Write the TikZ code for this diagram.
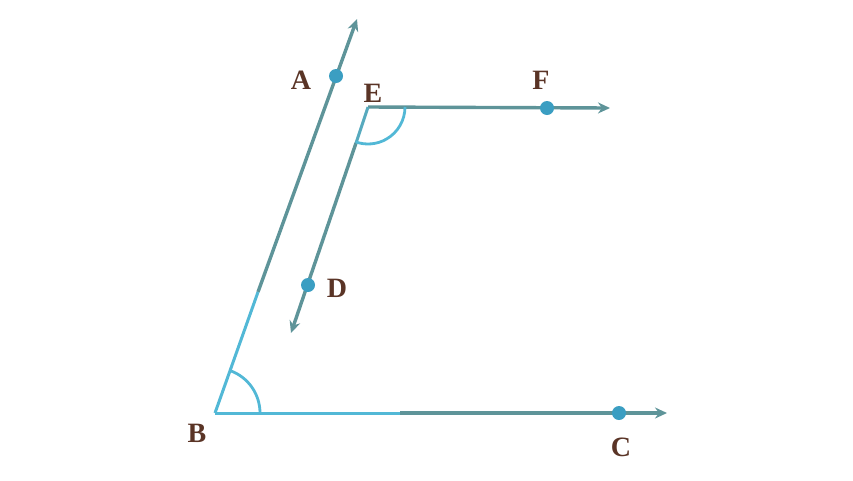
\documentclass[tikz,border=0pt]{standalone}
\usepackage{fontspec}
\setmainfont{Liberation Serif}
\usetikzlibrary{arrows.meta}
\definecolor{cyanl}{HTML}{52B8D6}
\definecolor{teall}{HTML}{5E9499}
\definecolor{dotc}{HTML}{3B9EC2}
\definecolor{labc}{HTML}{5A3426}
\tikzset{
  ray/.style={draw=teall, line width=3.4pt, -{Stealth[length=12pt,width=11pt]}},
  cseg/.style={draw=cyanl, line width=3pt},
  arcst/.style={draw=cyanl, line width=2.8pt},
  pt/.style={circle, fill=dotc, inner sep=0pt, minimum size=14pt},
  lab/.style={text=labc, font=\bfseries\fontsize{28}{28}\selectfont, inner sep=0pt}
}
\begin{document}
\begin{tikzpicture}[x=1pt,y=-1pt]
\useasboundingbox (0,0) rectangle (853,480);
% points
\coordinate (B) at (215,413);
\coordinate (Atip) at (357,19);
\coordinate (Bmid) at (258,292);
\coordinate (E) at (368,107);
\coordinate (Ftip) at (610,108);
\coordinate (Dtip) at (291,333);
\coordinate (Emid) at (356,143);
\coordinate (Cmid) at (400,413);
\coordinate (Ctip) at (667,413);
% rays
\draw[ray] (Bmid) -- (Atip);
\draw[ray] (Cmid) -- (Ctip);
\draw[cseg] (B) -- (Bmid);
\draw[cseg] (B) -- (Cmid);
\draw[ray] (E) -- (Ftip);
\draw[ray] (Emid) -- (Dtip);
\draw[cseg, draw=cyanl!60!teall] (E) -- (Emid);
% angles
\draw[arcst] (B) ++(45,0) arc[start angle=0, end angle=-70.2, radius=45];
\draw[arcst] (E) ++(37,0) arc[start angle=0, end angle=108.9, radius=37];
% dots
\node[pt] (A) at (336,76) {};
\node[pt] (F) at (547,108) {};
\node[pt] (D) at (308,285) {};
\node[pt] (C) at (619,413) {};
% labels
\node[lab] (lA) at (301,80) {A};
\node[lab] (lE) at (373,93) {E};
\node[lab] (lF) at (541,80) {F};
\node[lab] (lD) at (337,288) {D};
\node[lab] (lB) at (197,433) {B};
\node[lab] (lC) at (621,447) {C};
\end{tikzpicture}
\end{document}
